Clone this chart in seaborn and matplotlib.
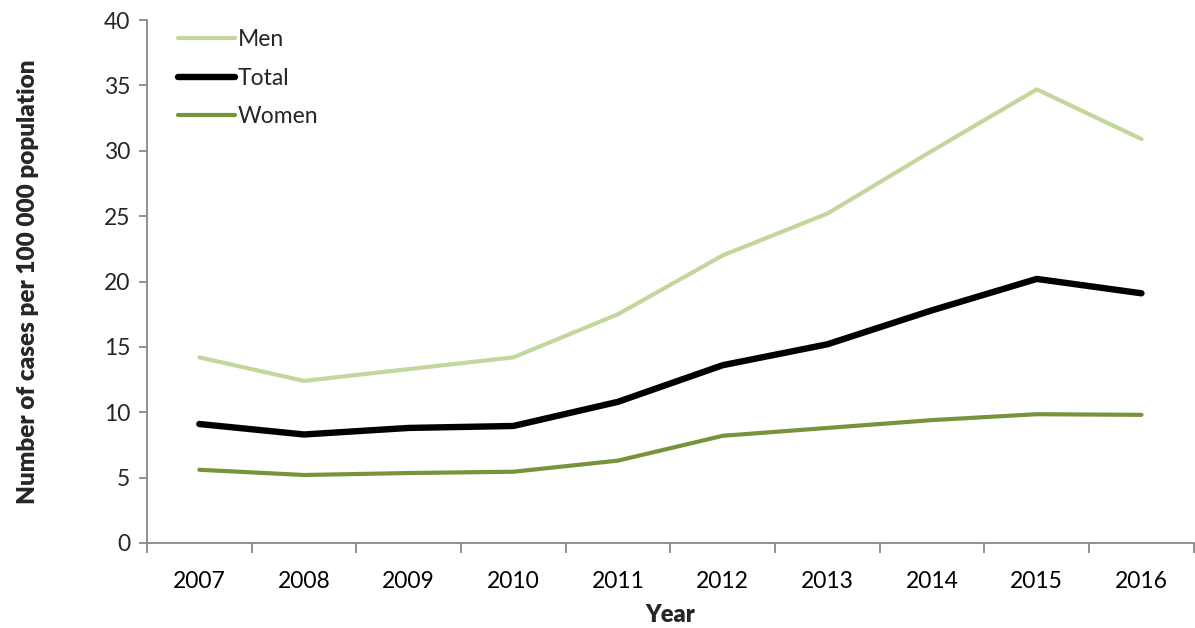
import matplotlib
matplotlib.use("Agg")
import matplotlib.pyplot as plt
import seaborn as sns
import pandas as pd

years = ["2007", "2008", "2009", "2010", "2011", "2012", "2013", "2014", "2015", "2016"]
men = [14.2, 12.4, 13.3, 14.2, 17.5, 22.0, 25.2, 30.0, 34.7, 30.9]
total = [9.1, 8.3, 8.8, 8.95, 10.8, 13.6, 15.2, 17.8, 20.2, 19.1]
women = [5.6, 5.2, 5.35, 5.45, 6.3, 8.2, 8.8, 9.4, 9.85, 9.8]

series = {"Men": men, "Total": total, "Women": women}
colors = {"Men": "#c3d69b", "Total": "#000000", "Women": "#77933c"}
widths = {"Men": 3.0, "Total": 4.6, "Women": 3.0}

sns.set_theme(style="white")
plt.rcParams["font.family"] = ["Lato", "DejaVu Sans"]

rows = []
for name, vals in series.items():
    for i, v in enumerate(vals):
        rows.append({"x": i, "value": v, "series": name})
df = pd.DataFrame(rows)

fig = plt.figure(figsize=(11.95, 6.28), dpi=100)
ax = fig.add_axes([0.123, 0.1354, 0.876, 0.8326])

for name in series:
    sub = df[df["series"] == name]
    sns.lineplot(data=sub, x="x", y="value", ax=ax, color=colors[name],
                 linewidth=widths[name], label=name, solid_capstyle="round",
                 solid_joinstyle="round")

ax.set_xlim(-0.5, len(years) - 0.5)
ax.set_ylim(0, 40)
ax.set_yticks(range(0, 41, 5))
ax.set_xticks(range(len(years)))
ax.set_xticklabels(years)
ax.set_xticks([i - 0.5 for i in range(len(years) + 1)], minor=True)
ax.tick_params(axis="x", which="major", length=0, pad=20, labelsize=16.5, colors="black")
ax.tick_params(axis="x", which="minor", length=7, width=1.3, color="#888888", direction="out", bottom=True)
ax.tick_params(axis="y", length=6, width=1.3, color="#888888", direction="out", left=True, labelsize=16.5, pad=6)

for s in ["top", "right"]:
    ax.spines[s].set_visible(False)
for s in ["left", "bottom"]:
    ax.spines[s].set_color("#888888")
    ax.spines[s].set_linewidth(1.3)

ax.set_xlabel("Year", fontsize=17, fontweight="heavy", labelpad=9)
ax.set_ylabel("Number of cases per 100 000 population", fontsize=17.5, fontweight="heavy", labelpad=47)

leg = ax.legend(loc="upper left", bbox_to_anchor=(0.01, 1.022), frameon=False,
                fontsize=16.5, handlelength=2.5, handletextpad=0.12, labelspacing=0.76)

fig.savefig("out.png", dpi=100)
